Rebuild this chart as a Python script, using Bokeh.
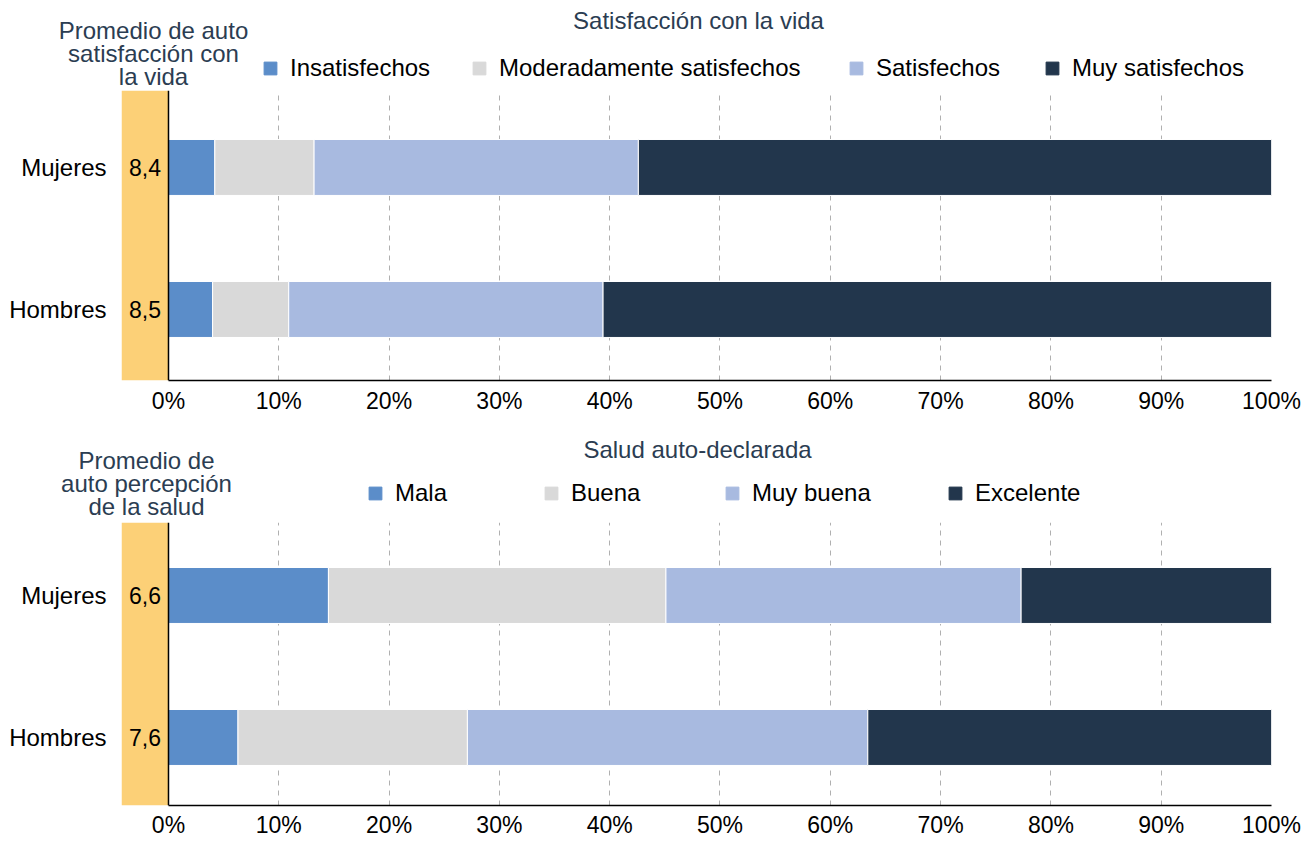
from bokeh.plotting import figure
from bokeh.models import (Range1d, FixedTicker, ColumnDataSource, Legend, LegendItem,
                          Label, Span, BoxAnnotation)
from bokeh.layouts import column
from bokeh.embed import file_html
from bokeh.resources import INLINE
from bokeh.core.properties import value

# ---------------- data ----------------
groups = ["Mujeres", "Hombres"]

life_title = "Satisfacción con la vida"
life_avg_title = "Promedio de auto\nsatisfacción con\nla vida"
life_cats = ["Insatisfechos", "Moderadamente satisfechos", "Satisfechos", "Muy satisfechos"]
life_mujeres = [4.2, 9.0, 29.4, 57.4]
life_hombres = [4.0, 6.9, 28.5, 60.6]
life_avg = [8.4, 8.5]

health_title = "Salud auto-declarada"
health_avg_title = "Promedio de\nauto percepción\nde la salud"
health_cats = ["Mala", "Buena", "Muy buena", "Excelente"]
health_mujeres = [14.5, 30.6, 32.2, 22.7]
health_hombres = [6.3, 20.8, 36.3, 36.6]
health_avg = [6.6, 7.6]

x_ticks = [0, 10, 20, 30, 40, 50, 60, 70, 80, 90, 100]
x_tick_labels = ["0%", "10%", "20%", "30%", "40%", "50%", "60%", "70%", "80%", "90%", "100%"]

# ---------------- style ----------------
colors = ["#5b8dc9", "#d9d9d9", "#a8bae0", "#22364c"]
band_color = "#fcd077"
title_color = "#2b3d52"
FONT = "Liberation Sans"
FS = "23px"
band_left = -4.26
bar_h = 0.394
W = 1310


def make_header(height, title, title_xy, avg_title, avg_xy, cats, legend_x, legend_y):
    h = figure(width=W, height=height, x_range=Range1d(0, W), y_range=Range1d(0, height),
               output_backend="svg", toolbar_location=None, min_border=0,
               x_axis_type=None, y_axis_type=None, frame_align=False)
    h.outline_line_color = None
    h.background_fill_color = "white"
    h.border_fill_color = "white"
    for c, col, lx in zip(cats, colors, legend_x):
        # hidden placeholder bar (outside the visible range) that only feeds the legend swatch
        r = h.hbar(y=[-1000], left=[0], right=[1], height=1, fill_color=col,
                   line_color=col, line_width=1)
        lg = Legend(items=[LegendItem(label=c, renderers=[r])], location=(lx, legend_y),
                    orientation="horizontal", padding=0, margin=0, spacing=0,
                    border_line_color=None, background_fill_alpha=0,
                    glyph_width=16, glyph_height=16, label_standoff=12,
                    label_text_font=FONT, label_text_font_size="24px",
                    label_text_color="black", label_height=16)
        h.add_layout(lg, "center")
    h.add_layout(Label(x=title_xy[0], y=title_xy[1], text=title, text_align="center",
                       text_baseline="middle", text_font=FONT, text_font_size="24px",
                       text_color=title_color))
    h.add_layout(Label(x=avg_xy[0], y=avg_xy[1], text=avg_title, text_align="center",
                       text_baseline="middle", text_font=FONT, text_font_size="24px",
                       text_color=title_color, text_line_height=0.84))
    return h


def make_panel(cats, vals_m, vals_h, avg, height, b_bot, y_lo, y_hi, tick_standoff):
    ypos = [len(groups) - 1 - i for i in range(len(groups))]
    data = {"y": ypos}
    keys = []
    for j, c in enumerate(cats):
        k = "s%d" % j
        keys.append(k)
        data[k] = [vals_m[j], vals_h[j]]
    src = ColumnDataSource(data)

    p = figure(width=W, height=height, x_range=Range1d(band_left, 100),
               y_range=Range1d(y_lo, y_hi), output_backend="svg", toolbar_location=None,
               min_border_left=121, min_border_right=39, min_border_top=0,
               min_border_bottom=b_bot, frame_align=False)
    p.outline_line_color = None
    p.background_fill_color = "white"
    p.border_fill_color = "white"

    p.add_layout(BoxAnnotation(left=band_left, right=0, fill_color=band_color, fill_alpha=1,
                               line_alpha=0, level="underlay"))

    p.hbar_stack(keys, y="y", height=bar_h, color=colors, source=src,
                 line_color="white", line_width=1)

    p.add_layout(Span(location=0, dimension="height", line_color="black", line_width=1.5))

    p.text(x=[band_left / 2] * len(groups), y=ypos,
           text=[("%.1f" % v).replace(".", ",") for v in avg],
           text_align="center", text_baseline="middle", text_font=value(FONT),
           text_font_size=FS, text_color="black")

    xa = p.xaxis[0]
    xa.ticker = FixedTicker(ticks=x_ticks)
    xa.major_label_overrides = {t: l for t, l in zip(x_ticks, x_tick_labels)}
    xa.bounds = (0, 100)
    xa.axis_line_color = "black"
    xa.axis_line_width = 1.5
    xa.major_tick_in = 0
    xa.major_tick_out = 0
    xa.minor_tick_line_color = None
    xa.major_label_standoff = tick_standoff
    xa.major_label_text_font = FONT
    xa.major_label_text_font_size = FS
    xa.major_label_text_color = "black"

    ya = p.yaxis[0]
    ya.ticker = FixedTicker(ticks=ypos)
    ya.major_label_overrides = {y: g for y, g in zip(ypos, groups)}
    ya.axis_line_color = None
    ya.major_tick_line_color = None
    ya.major_tick_out = 0
    ya.major_tick_in = 0
    ya.minor_tick_line_color = None
    ya.major_label_standoff = 15
    ya.major_label_text_font = FONT
    ya.major_label_text_font_size = "24px"
    ya.major_label_text_color = "black"

    p.ygrid.grid_line_color = None
    p.xgrid.ticker = FixedTicker(ticks=x_ticks[1:])
    p.xgrid.grid_line_color = "#b0b0b0"
    p.xgrid.grid_line_dash = "5 5"
    p.xgrid.grid_line_width = 1
    return p


h1 = make_header(90, life_title, (698, 70), life_avg_title, (153, 37), life_cats,
                 legend_x=[262, 471, 848, 1044], legend_y=8)
p1 = make_panel(life_cats, life_mujeres, life_hombres, life_avg,
                height=335, b_bot=45, y_lo=-0.5, y_hi=1.542, tick_standoff=7)

h2 = make_header(97, health_title, (697, 73), health_avg_title, (146, 39), health_cats,
                 legend_x=[367, 543, 724, 947], legend_y=15)
p2 = make_panel(health_cats, health_mujeres, health_hombres, health_avg,
                height=318, b_bot=35, y_lo=-0.479, y_hi=1.514, tick_standoff=6)

layout = column(h1, p1, h2, p2, spacing=0)
open("out.html", "w").write(file_html(layout, INLINE))
